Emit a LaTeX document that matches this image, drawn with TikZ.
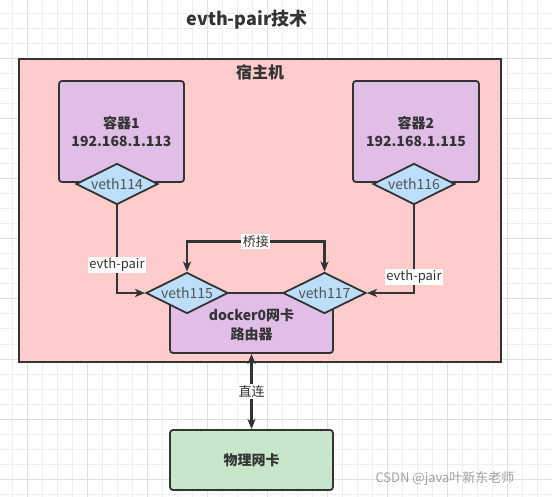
\documentclass[tikz,border=0pt]{standalone}
\usepackage{fontspec}
\setmainfont{Noto Sans CJK SC}
\usetikzlibrary{arrows.meta,shapes.geometric}
\definecolor{gridminor}{HTML}{EEEEEE}
\definecolor{gridmajor}{HTML}{E0E0E0}
\definecolor{hostpink}{HTML}{FFCCCC}
\definecolor{boxpurple}{HTML}{E1BEE7}
\definecolor{portblue}{HTML}{BBDEFB}
\definecolor{nicgreen}{HTML}{C8E6C9}
\definecolor{ink}{HTML}{333333}
\definecolor{mark}{HTML}{A0A0A0}
\tikzset{
  box/.style={draw=ink, line width=1.8pt, rounded corners=3pt, text=ink,
    font=\fontsize{14}{18}\selectfont\bfseries, align=center},
  port/.style={draw=ink, line width=1.8pt, shape=diamond, fill=portblue, aspect=2,
    inner sep=0pt, minimum width=82pt, minimum height=41pt, text=ink!85,
    font=\fontsize{14}{16}\selectfont},
  link/.style={draw=ink, line width=2.2pt, -{Stealth[length=10pt,width=8pt,inset=2.5pt]}},
  both/.style={{Stealth[length=10pt,width=8pt,inset=2.5pt]}-{Stealth[length=10pt,width=8pt,inset=2.5pt]}},
  lbl/.style={fill=white, inner sep=1.5pt, text=ink, font=\fontsize{13}{15}\selectfont}
}
\begin{document}
\begin{tikzpicture}[x=1pt, y=-1pt]
  \useasboundingbox (0,0) rectangle (552,497);
  % background grid
  \foreach \i in {0,...,36} \draw[gridminor, line width=1pt] (12+15*\i,0) -- (12+15*\i,497);
  \foreach \j in {0,...,32} \draw[gridminor, line width=1pt] (0,14+15*\j) -- (552,14+15*\j);
  \foreach \i in {0,...,8} \draw[gridmajor, line width=1pt] (27+60*\i,0) -- (27+60*\i,497);
  \foreach \j in {0,...,7} \draw[gridmajor, line width=1pt] (0,59+60*\j) -- (552,59+60*\j);

  \node[text=ink, font=\fontsize{18}{20}\selectfont\bfseries] (title) at (247,20) {evth-pair技术};

  % host
  \node[draw=ink, line width=1.8pt, fill=hostpink, minimum width=482pt, minimum height=303pt] (host) at (260,210.5) {};
  \node[text=ink, font=\fontsize{16}{18}\selectfont\bfseries] (hostname) at (260,72) {宿主机};

  % containers
  \node[box, fill=boxpurple, minimum width=125pt, minimum height=101pt] (c1) at (121.5,131.5) {容器1\\192.168.1.113};
  \node[box, fill=boxpurple, minimum width=126pt, minimum height=101pt] (c2) at (416,131.5) {容器2\\192.168.1.115};
  \node[port] (v114) at (117,184) {veth114};
  \node[port] (v116) at (414,184) {veth116};

  % docker0
  \node[box, fill=boxpurple, minimum width=163pt, minimum height=60pt, text depth=0pt] (docker) at (251.5,323) {\\[-4pt]docker0网卡\\路由器};
  \node[port] (v115) at (187,293) {veth115};
  \node[port, minimum width=83pt] (v117) at (324.5,293) {veth117};

  % physical nic
  \node[box, fill=nicgreen, minimum width=163pt, minimum height=60pt] (nic) at (251.5,460) {物理网卡};

  % links
  \draw[link] (v114.south) |- node[lbl, pos=0.34] {evth-pair} (v115.west);
  \draw[link] (v116.south) |- node[lbl, pos=0.41] {evth-pair} (v117.east);
  \draw[link, both] (v115.north) -- ++(0,-30) -| node[lbl, pos=0.25] {桥接} (v117.north);
  \draw[link, both, line width=2.4pt] (docker.south) -- node[lbl] {直连} (nic.north);

  \node[text=mark, font=\fontsize{13}{15}\selectfont] (wm) at (445,479) {CSDN @java叶新东老师};
\end{tikzpicture}
\end{document}
